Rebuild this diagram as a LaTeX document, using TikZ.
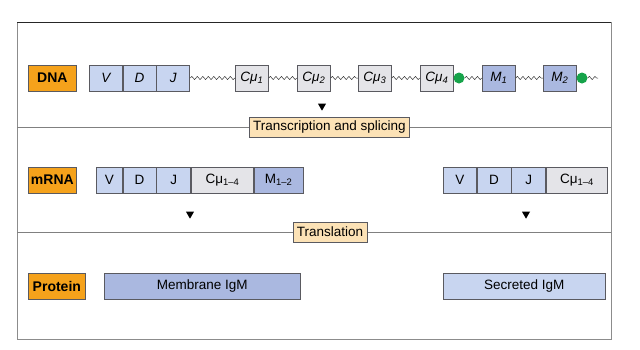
\documentclass[tikz,border=0pt]{standalone}
\usepackage{fontspec}
\setmainfont{Liberation Sans}
\usetikzlibrary{decorations.pathmorphing,shapes.geometric}
\definecolor{lblorange}{HTML}{F5A21B}
\definecolor{lightblue}{HTML}{C8D5F0}
\definecolor{darkblue}{HTML}{AAB8E0}
\definecolor{cgray}{HTML}{E4E4E8}
\definecolor{beige}{HTML}{FCE2B6}
\definecolor{dotgreen}{HTML}{16A34A}
\definecolor{edge}{HTML}{5A5A60}
\begin{document}
\begin{tikzpicture}[x=1pt,y=-1pt,
  every node/.style={font=\fontsize{13.5}{15}\selectfont},
  seg/.style={draw=edge,line width=0.7pt,minimum height=26pt,inner sep=0pt,anchor=west},
  vdj/.style={seg,fill=lightblue},
  cmu/.style={seg,fill=cgray},
  mseg/.style={seg,fill=darkblue},
  rowlabel/.style={seg,fill=lblorange,font=\fontsize{14}{16}\selectfont\bfseries},
  steplabel/.style={draw=edge,line width=0.7pt,fill=beige,inner xsep=4pt,inner ysep=3pt,minimum height=20pt},
  wavy/.style={draw=black!80,line width=0.5pt,decorate,decoration={snake,segment length=5.5pt,amplitude=1.6pt}},
  gdot/.style={circle,fill=dotgreen,inner sep=0pt,minimum size=11pt},
  tri/.style={isosceles triangle,isosceles triangle apex angle=60,shape border rotate=-90,fill=black,inner sep=0pt,minimum width=6pt,minimum height=7pt},
  divider/.style={draw=black!50,line width=0.7pt}]
\useasboundingbox (0,0) rectangle (640,349);
% frame
\coordinate (ftl) at (17,22);
\coordinate (fbr) at (611,339);
\draw[black!45,line width=0.8pt] (ftl) rectangle (fbr);
\draw[black!85,line width=1pt] (17,22) coordinate (tl) -- (611,22) coordinate (tr);
% dividers
\coordinate (d1l) at (17,127); \coordinate (d1r) at (611,127);
\coordinate (d2l) at (17,232); \coordinate (d2r) at (611,232);
\draw[divider] (d1l) -- (d1r);
\draw[divider] (d2l) -- (d2r);
\node[steplabel] (ts) at (329.5,127) {Transcription and splicing};
\node[steplabel] (tl2) at (330,232) {Translation};
% DNA row
\node[rowlabel,minimum width=48pt] (dna) at (28,78) {DNA};
\node[vdj,minimum width=33pt] (v1) at (89,78) {\itshape V};
\node[vdj,minimum width=33pt] (d1) at (v1.east) {\itshape D};
\node[vdj,minimum width=33pt] (j1) at (d1.east) {\itshape J};
\node[cmu,minimum width=33pt] (c1) at (235,78) {\itshape Cμ\textsubscript{1}};
\node[cmu,minimum width=33pt] (c2) at (297,78) {\itshape Cμ\textsubscript{2}};
\node[cmu,minimum width=33pt] (c3) at (358,78) {\itshape Cμ\textsubscript{3}};
\node[cmu,minimum width=33pt] (c4) at (420,78) {\itshape Cμ\textsubscript{4}};
\node[gdot] (g1) at (459,78) {};
\node[mseg,minimum width=33pt] (m1) at (482,78) {\itshape M\textsubscript{1}};
\node[mseg,minimum width=33pt] (m2) at (543,78) {\itshape M\textsubscript{2}};
\node[gdot] (g2) at (582,78) {};
\coordinate (dnaend) at (598,78);
\draw[wavy] (j1.east) -- (c1.west);
\draw[wavy] (c1.east) -- (c2.west);
\draw[wavy] (c2.east) -- (c3.west);
\draw[wavy] (c3.east) -- (c4.west);
\draw[wavy] (g1.east) -- (m1.west);
\draw[wavy] (m1.east) -- (m2.west);
\draw[wavy] (g2.east) -- (dnaend);
\node[tri] (a1) at (322,106) {};
% mRNA row
\node[rowlabel,minimum width=48pt] (mrna) at (28,180) {mRNA};
\node[vdj,minimum width=26pt] (v2) at (96,180) {V};
\node[vdj,minimum width=33pt] (d2) at (v2.east) {D};
\node[vdj,minimum width=34pt] (j2) at (d2.east) {J};
\node[cmu,minimum width=62pt] (c2a) at (j2.east) {Cμ\textsubscript{1–4}};
\node[mseg,minimum width=49pt] (m2a) at (c2a.east) {M\textsubscript{1–2}};
\node[vdj,minimum width=33pt] (v3) at (443,180) {V};
\node[vdj,minimum width=34pt] (d3) at (v3.east) {D};
\node[vdj,minimum width=34pt] (j3) at (d3.east) {J};
\node[cmu,minimum width=61pt] (c3a) at (j3.east) {Cμ\textsubscript{1–4}};
\node[tri] (a2) at (190,214) {};
\node[tri] (a3) at (526,214) {};
% Protein row
\node[rowlabel,minimum width=57pt] (prot) at (28,286) {Protein};
\node[mseg,minimum width=196pt] (mem) at (104,286) {Membrane IgM};
\node[vdj,minimum width=162pt] (sec) at (443,286) {Secreted IgM};
\end{tikzpicture}
\end{document}
